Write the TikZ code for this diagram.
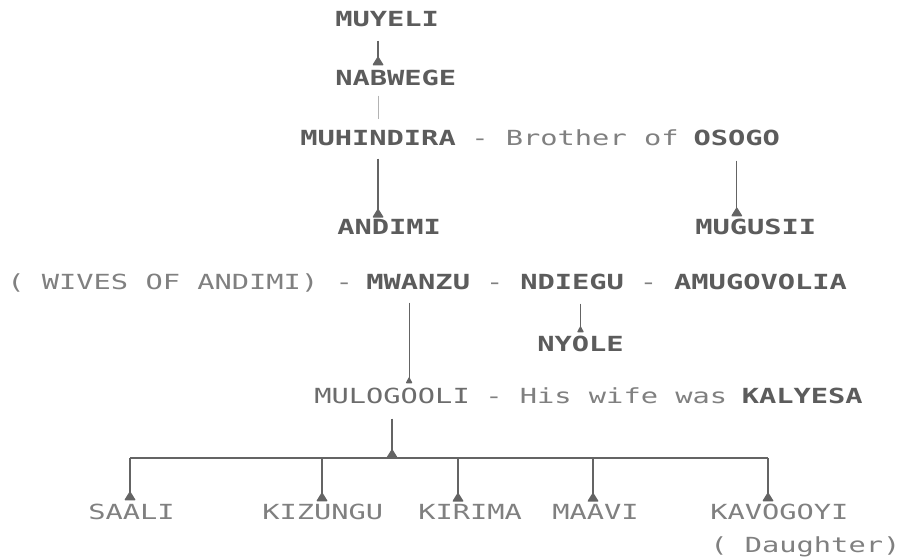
\documentclass[tikz,border=0pt]{standalone}
\usepackage{fontspec}
\usetikzlibrary{arrows.meta,calc}
% Wide monospaced face in the style of a dot-matrix printout
\newfontfamily\dotfont[FakeStretch=1.38]{DejaVu Sans Mono}
\newfontfamily\dotbold[FakeStretch=1.38]{DejaVu Sans Mono Bold}
\definecolor{inkdark}{RGB}{92,92,92}
\definecolor{inklight}{RGB}{128,128,128}
\definecolor{inkline}{RGB}{100,100,100}
\def\p{17.1}% character pitch

\begin{document}
\begin{tikzpicture}[x=0.75pt,y=-0.75pt,
  every node/.style={anchor=base west, inner sep=0pt,
    font=\dotfont\fontsize{15.6pt}{18pt}\selectfont},
  nm/.style={text=inkdark, font=\dotbold\fontsize{15.6pt}{18pt}\selectfont},
  lt/.style={text=inklight},
  con/.style={draw=inkline, line width=0.9pt},
  faint/.style={draw=inklight!60, line width=0.8pt},
  tip/.style={-{Triangle[reversed,round,width=8.5pt,length=7pt]}},
  smalltip/.style={-{Triangle[reversed,round,width=5pt,length=5pt]}},
]
\useasboundingbox[fill=white] (0,0) rectangle (899,560);

% ---- names and captions ----
\node[nm] (muyeli)    at (335,27)  {MUYELI};
\node[nm] (nabwege)   at (335,85)  {NABWEGE};
\node[nm] (muhindira) at (300,145) {MUHINDIRA};
\node[lt] (brother)   at (300+10*\p,145) {- Brother of};
\node[nm] (osogo)     at (300+23*\p,145) {OSOGO};
\node[nm] (andimi)    at (337,234) {ANDIMI};
\node[nm] (mugusii)   at (695,234) {MUGUSII};
\node[lt] (wives)     at (7,289) {( WIVES OF ANDIMI) -};
\node[nm] (mwanzu)    at (7+21*\p,289) {MWANZU};
\node[lt] (dashA)     at (7+28*\p,289) {-};
\node[nm] (ndiegu)    at (7+30*\p,289) {NDIEGU};
\node[lt] (dashB)     at (7+37*\p,289) {-};
\node[nm] (amugovolia) at (7+39*\p,289) {AMUGOVOLIA};
\node[nm] (nyole)     at (537,351) {NYOLE};
\node[lt, text=inkdark!90] (mulogooli) at (314,403) {MULOGOOLI};
\node[lt] (wife)      at (314+10*\p,403) {- His wife was};
\node[nm] (kalyesa)   at (314+25*\p,403) {KALYESA};
\node[lt] (saali)     at (88,519)  {SAALI};
\node[lt] (kizungu)   at (262,519) {KIZUNGU};
\node[lt] (kirima)    at (418,519) {KIRIMA};
\node[lt] (maavi)     at (552,519) {MAAVI};
\node[lt] (kavogoyi)  at (710,519) {KAVOGOYI};
\node[lt] (daughter)  at (710,552) {( Daughter)};

% ---- descent lines ----
\draw[con,tip] ($(muyeli.south -| muhindira.south)+(0,13)$) -- ($(nabwege.north -| muhindira.south)+(0,-4)$);
\draw[faint]   ($(nabwege.south -| muhindira.south)+(0,10)$) -- ($(muhindira.north)+(0,-11)$);
\draw[con,tip] ($(muhindira.south)+(0,13)$) -- ($(muhindira.south |- andimi.north)+(0,-1)$);
\draw[con,tip] ($(osogo.south)+(0,15)$) -- ($(osogo.south |- mugusii.north)+(0,-2)$);

\coordinate (mw) at ($(mwanzu.south west)+(43,0)$);
\draw[con,smalltip] ($(mw)+(0,13)$) -- ($(mw |- mulogooli.north)+(0,-4)$);
\draw[con,smalltip] ($(nyole.north |- ndiegu.south)+(0,14)$) -- ($(nyole.north)+(0,-3)$);

% ---- children of Mulogooli ----
\coordinate (b1) at (130,458);
\coordinate (b2) at (322,458);
\coordinate (b3) at (458,458);
\coordinate (b4) at (593,458);
\coordinate (b5) at (768,458);
\draw[con,tip] ($(mulogooli.south)+(0,15)$) -- (mulogooli.south |- b1);
\draw[con] (b1) -- (b5);
\draw[con,tip] (b1) -- ($(b1 |- saali.north)+(0,-3)$);
\draw[con,tip] (b2) -- ($(b2 |- kizungu.north)+(0,-2)$);
\draw[con,tip] (b3) -- ($(b3 |- kirima.north)+(0,-2)$);
\draw[con,tip] (b4) -- ($(b4 |- maavi.north)+(0,-2)$);
\draw[con,tip] (b5) -- ($(b5 |- kavogoyi.north)+(0,-2)$);
\end{tikzpicture}
\end{document}
